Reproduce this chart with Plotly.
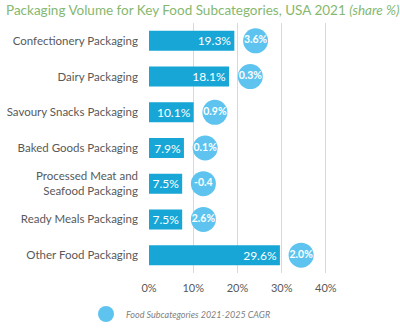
import plotly.graph_objects as go

# Packaging volume share by food subcategory (USA 2021) and 2021-2025 CAGR
categories = [
    "Confectionery Packaging",
    "Dairy Packaging",
    "Savoury Snacks Packaging",
    "Baked Goods Packaging",
    "Processed Meat and<br>Seafood Packaging",
    "Ready Meals Packaging",
    "Other Food Packaging",
]
share_pct = [19.3, 18.1, 10.1, 7.9, 7.5, 7.5, 29.6]
cagr_pct = [3.6, 0.3, 0.9, 0.1, -0.4, 2.6, 2.0]
x_ticks = [0, 10, 20, 30, 40]
x_tick_labels = ["0%", "10%", "20%", "30%", "40%"]

BAR_BLUE = "#17a6d6"
BUBBLE_BLUE = "#5ec4ef"
GRAY_TEXT = "#595959"
BUBBLE_GAP = 4.8  # bubble sits just past the end of its bar

share_text = [f"{v:.1f}%" for v in share_pct]
cagr_text = [f"{v:.1f}%" if v >= 0 else f"{v:.1f}" for v in cagr_pct]
bubble_x = [s + BUBBLE_GAP for s in share_pct]

fig = go.Figure()
fig.add_trace(go.Bar(
    x=share_pct, y=categories, orientation="h",
    marker=dict(color=BAR_BLUE, line=dict(width=0)),
    text=share_text, textposition="inside", insidetextanchor="end",
    constraintext="none",
    textfont=dict(color="white", size=12, family="Lato"),
    showlegend=False, hoverinfo="skip",
))
fig.add_trace(go.Scatter(
    x=bubble_x, y=categories, mode="markers+text",
    marker=dict(size=25, color=BUBBLE_BLUE, line=dict(width=0)),
    text=cagr_text, textposition="middle center",
    textfont=dict(color="white", size=10.5, family="Lato", weight="bold"),
    name="<i>Food Subcategories 2021-2025 CAGR</i>",
    showlegend=True, hoverinfo="skip",
))

n = len(categories)
fig.update_layout(
    width=400, height=333,
    margin=dict(l=149, r=52, t=23, b=60, autoexpand=False),
    paper_bgcolor="white", plot_bgcolor="white",
    bargap=0.44,
    title=dict(
        text="Packaging Volume for Key Food Subcategories, USA 2021 <i>(share %)</i>",
        font=dict(family="Lato", size=13.5, color="#86b86f"),
        x=0.015, xanchor="left", xref="container",
        y=0.97, yanchor="middle", yref="container",
    ),
    xaxis=dict(
        range=[0, 45], tickvals=x_ticks, ticktext=x_tick_labels,
        showgrid=True, gridcolor="#d9d9d9", gridwidth=1,
        zeroline=False, showline=False, ticks="",
        ticklabelstandoff=7,
        tickfont=dict(family="Lato", size=11, color=GRAY_TEXT),
        fixedrange=True,
    ),
    yaxis=dict(
        range=[n - 0.5, -0.5], showgrid=False, zeroline=False, ticks="",
        ticklabelstandoff=10,
        tickfont=dict(family="Lato", size=11.5, color=GRAY_TEXT),
        fixedrange=True,
    ),
    legend=dict(
        orientation="h", xref="container", yref="container",
        x=0.215, xanchor="left", y=1 - 314 / 333, yanchor="middle",
        font=dict(family="Lato", size=9, color="#7f7f7f"),
        itemsizing="trace",
    ),
    font=dict(family="Lato"),
)

fig.write_html("out.html")
